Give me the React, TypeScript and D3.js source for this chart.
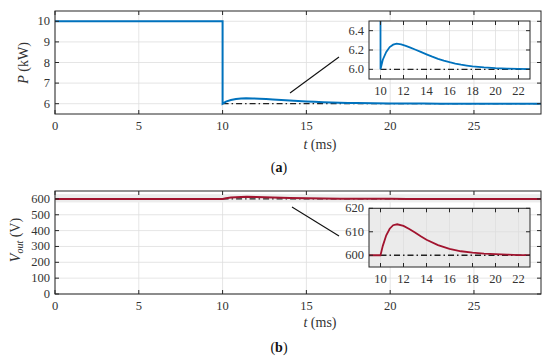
import React from 'react';
import * as d3 from 'd3';

// power (kW) step response
const pTime = [0, 10, 10, 10.2, 10.5, 10.8, 11.1, 11.4, 11.8, 12.2, 12.6, 13, 13.5, 14, 14.5, 15, 15.5, 16, 16.5, 17, 17.5, 18, 19, 20, 21, 22, 23, 29];
const pValue = [10, 10, 6.0, 6.1, 6.18, 6.23, 6.255, 6.265, 6.258, 6.243, 6.225, 6.205, 6.18, 6.155, 6.131, 6.109, 6.09, 6.074, 6.06, 6.048, 6.039, 6.031, 6.02, 6.012, 6.007, 6.004, 6.002, 6.0];
const pRef = [6, 6];
// output voltage (V)
const vTime = [0, 10, 10.2, 10.5, 10.8, 11.1, 11.45, 12, 12.5, 13, 13.5, 14, 15, 16, 17, 18, 19, 20, 21, 22, 23, 29];
const vValue = [600, 600, 604, 608.5, 611.3, 612.8, 613.2, 612.5, 611.2, 609.7, 608.1, 606.6, 604.3, 602.7, 601.7, 601.1, 600.7, 600.45, 600.25, 600.1, 600.05, 600];
const vRef = [600, 600];
const refTime = [10, 29];

const mainXTicks = [0, 5, 10, 15, 20, 25];
const pYTicks = [6, 7, 8, 9, 10];
const vYTicks = [0, 100, 200, 300, 400, 500, 600];
const insetXTicks = [10, 12, 14, 16, 18, 20, 22];
const pInsetYTicks = [6.0, 6.2, 6.4];
const vInsetYTicks = [600, 610, 620];

const BLUE = '#0072bd';
const RED = '#a2142f';
const GRID = '#dedede';
const AXIS = '#262626';
const FONT = '"Liberation Serif", "DejaVu Serif", serif';

type Panel = {
  x: d3.ScaleLinear<number, number>;
  y: d3.ScaleLinear<number, number>;
  xTicks: number[];
  yTicks: number[];
  yFmt: (v: number) => string;
  fill?: string;
};

function Axes({ x, y, xTicks, yTicks, fill }: Panel) {
  const [x0, x1] = x.range();
  const [y0, y1] = y.range();
  return (
    <g>
      <rect x={x0} y={y1} width={x1 - x0} height={y0 - y1} fill={fill || '#fff'} />
      {xTicks.map((t) => (
        <line key={'gx' + t} x1={x(t)} x2={x(t)} y1={y0} y2={y1} stroke={GRID} strokeWidth={0.8} />
      ))}
      {yTicks.map((t) => (
        <line key={'gy' + t} x1={x0} x2={x1} y1={y(t)} y2={y(t)} stroke={GRID} strokeWidth={0.8} />
      ))}
    </g>
  );
}

function Frame({ x, y, xTicks, yTicks, yFmt }: Panel) {
  const [x0, x1] = x.range();
  const [y0, y1] = y.range();
  const tk = 4;
  return (
    <g fontFamily={FONT} fontSize={12.5} fill="#333">
      <rect x={x0} y={y1} width={x1 - x0} height={y0 - y1} fill="none" stroke={AXIS} strokeWidth={1} />
      {xTicks.map((t) => (
        <g key={'tx' + t}>
          <line x1={x(t)} x2={x(t)} y1={y0} y2={y0 - tk} stroke={AXIS} />
          <line x1={x(t)} x2={x(t)} y1={y1} y2={y1 + tk} stroke={AXIS} />
          <text x={x(t)} y={y0 + 16} textAnchor="middle">{t}</text>
        </g>
      ))}
      {yTicks.map((t) => (
        <g key={'ty' + t}>
          <line x1={x0} x2={x0 + tk} y1={y(t)} y2={y(t)} stroke={AXIS} />
          <line x1={x1} x2={x1 - tk} y1={y(t)} y2={y(t)} stroke={AXIS} />
          <text x={x0 - 5} y={y(t) + 4} textAnchor="end">{yFmt(t)}</text>
        </g>
      ))}
    </g>
  );
}

function series(x: d3.ScaleLinear<number, number>, y: d3.ScaleLinear<number, number>, ts: number[], vs: number[]) {
  return d3.line<number>().x((_, i) => x(ts[i])).y((v) => y(v))(vs) || '';
}

export default function App() {
  const W = 550;
  const H = 360;

  const xA = d3.scaleLinear().domain([0, 29]).range([55, 541]);
  const yA = d3.scaleLinear().domain([5.5, 10.5]).range([114, 11]);
  const xAi = d3.scaleLinear().domain([9, 23]).range([369, 530]);
  const yAi = d3.scaleLinear().domain([5.9, 6.5]).range([79, 21]);

  const xB = d3.scaleLinear().domain([0, 29]).range([55, 541]);
  const yB = d3.scaleLinear().domain([0, 650]).range([294, 191]);
  const xBi = d3.scaleLinear().domain([9, 23]).range([369, 530]);
  const yBi = d3.scaleLinear().domain([595, 620]).range([267, 208.3]);

  const intFmt = (v: number) => String(v);
  const decFmt = d3.format('.1f');

  const dashDot = '6,3,1.5,3';

  return (
    <svg width={W} height={H} style={{ position: 'absolute', left: 0, top: 0 }}>
      <rect width={W} height={H} fill="#fff" />
      <defs>
        <clipPath id="ca"><rect x={55} y={11} width={486} height={103} /></clipPath>
        <clipPath id="cai"><rect x={369} y={21} width={161} height={58} /></clipPath>
        <clipPath id="cb"><rect x={55} y={191} width={486} height={103} /></clipPath>
        <clipPath id="cbi"><rect x={369} y={208} width={161} height={59} /></clipPath>
      </defs>

      {/* (a) main */}
      <Axes x={xA} y={yA} xTicks={mainXTicks} yTicks={pYTicks} yFmt={intFmt} />
      <g clipPath="url(#ca)">
        <path d={series(xA, yA, refTime, pRef)} fill="none" stroke="#222" strokeWidth={1.3} strokeDasharray={dashDot} />
        <path d={series(xA, yA, pTime, pValue)} fill="none" stroke={BLUE} strokeWidth={2} />
      </g>
      <Frame x={xA} y={yA} xTicks={mainXTicks} yTicks={pYTicks} yFmt={intFmt} />
      <line x1={290} y1={93} x2={339} y2={57} stroke="#111" strokeWidth={1.1} />

      {/* (a) inset */}
      <Axes x={xAi} y={yAi} xTicks={insetXTicks} yTicks={pInsetYTicks} yFmt={decFmt} />
      <g clipPath="url(#cai)">
        <path d={series(xAi, yAi, refTime, pRef)} fill="none" stroke="#222" strokeWidth={1.3} strokeDasharray={dashDot} />
        <path d={series(xAi, yAi, pTime, pValue)} fill="none" stroke={BLUE} strokeWidth={1.8} />
      </g>
      <Frame x={xAi} y={yAi} xTicks={insetXTicks} yTicks={pInsetYTicks} yFmt={decFmt} />

      <g fontFamily={FONT} fontSize={14} fill="#333">
        <text x={320} y={149} textAnchor="middle"><tspan fontStyle="italic">t</tspan> (ms)</text>
        <text transform="translate(28,63) rotate(-90)" textAnchor="middle"><tspan fontStyle="italic">P</tspan> (kW)</text>
      </g>
      <text x={279} y={172} textAnchor="middle" fontFamily={FONT} fontSize={14} fill="#111">
        (<tspan fontWeight="bold">a</tspan>)
      </text>

      {/* (b) main */}
      <Axes x={xB} y={yB} xTicks={mainXTicks} yTicks={vYTicks} yFmt={intFmt} />
      <g clipPath="url(#cb)">
        <rect x={55} y={yB(630)} width={486} height={yB(578) - yB(630)} fill="#ececec" />
        <path d={series(xB, yB, refTime, vRef)} fill="none" stroke="#222" strokeWidth={1.3} strokeDasharray={dashDot} />
        <path d={series(xB, yB, vTime, vValue)} fill="none" stroke={RED} strokeWidth={2} />
      </g>
      <Frame x={xB} y={yB} xTicks={mainXTicks} yTicks={vYTicks} yFmt={intFmt} />
      <line x1={292} y1={207} x2={339} y2={236} stroke="#111" strokeWidth={1.1} />

      {/* (b) inset */}
      <Axes x={xBi} y={yBi} xTicks={insetXTicks} yTicks={vInsetYTicks} yFmt={intFmt} fill="#ebebeb" />
      <g clipPath="url(#cbi)">
        <path d={series(xBi, yBi, refTime, vRef)} fill="none" stroke="#222" strokeWidth={1.3} strokeDasharray={dashDot} />
        <path d={series(xBi, yBi, vTime, vValue)} fill="none" stroke={RED} strokeWidth={1.8} />
      </g>
      <Frame x={xBi} y={yBi} xTicks={insetXTicks} yTicks={vInsetYTicks} yFmt={intFmt} />

      <g fontFamily={FONT} fontSize={14} fill="#333">
        <text x={320} y={327} textAnchor="middle"><tspan fontStyle="italic">t</tspan> (ms)</text>
        <text transform="translate(20,240) rotate(-90)" textAnchor="middle">
          <tspan fontStyle="italic">V</tspan><tspan fontStyle="italic" fontSize={10} dy={3}>out</tspan><tspan dy={-3}> (V)</tspan>
        </text>
      </g>
      <text x={279} y={352} textAnchor="middle" fontFamily={FONT} fontSize={14} fill="#111">
        (<tspan fontWeight="bold">b</tspan>)
      </text>
    </svg>
  );
}
